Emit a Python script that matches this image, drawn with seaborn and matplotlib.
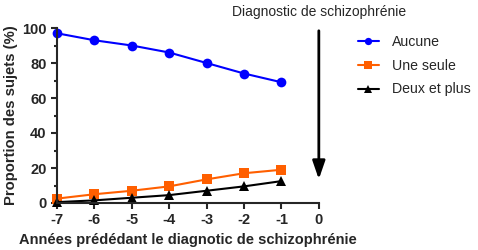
import pandas as pd
import seaborn as sns
import matplotlib.pyplot as plt

# Values
annees = [-7, -6, -5, -4, -3, -2, -1]
aucune = [97, 93, 90, 86, 80, 74, 69]
une_seule = [2.5, 5, 7, 9.5, 13.5, 17, 19]
deux_et_plus = [0.5, 1.5, 3, 4.5, 7, 9.5, 12.5]
groupes = ["Aucune", "Une seule", "Deux et plus"]

df = pd.DataFrame({
    "annee": annees * 3,
    "proportion": aucune + une_seule + deux_et_plus,
    "groupe": [g for g in groupes for _ in annees],
})

sns.set_style("ticks")
plt.rcParams['font.family'] = ['Liberation Sans', 'DejaVu Sans']
plt.rcParams['axes.unicode_minus'] = False

fig = plt.figure(figsize=(4.78, 2.5), dpi=100)
ax = fig.add_axes([0.119, 0.188, 0.548, 0.70])

palette = {"Aucune": "#0000ff", "Une seule": "#ff5f00", "Deux et plus": "#000000"}
markers = {"Aucune": "o", "Une seule": "s", "Deux et plus": "^"}
sns.lineplot(data=df, x="annee", y="proportion", hue="groupe", style="groupe",
             palette=palette, markers=markers, dashes=False, markersize=7,
             markeredgewidth=0, linewidth=1.5, ax=ax, clip_on=False)

ax.set_xlim(-7, 0)
ax.set_ylim(0, 100)
ax.set_xticks(range(-7, 1))
ax.set_yticks(range(0, 101, 20))
ax.set_yticks(range(10, 100, 20), minor=True)
for side in ["top", "right"]:
    ax.spines[side].set_visible(False)
for side in ["left", "bottom"]:
    ax.spines[side].set_linewidth(1.5)
ax.tick_params(which="major", length=4, width=1.5, labelsize=10.5)
ax.tick_params(which="minor", length=2.5, width=1.5)
for lbl in ax.get_xticklabels() + ax.get_yticklabels():
    lbl.set_fontweight("bold")

ax.set_xlabel("Années prédédant le diagnotic de schizophrénie", fontsize=10.5, fontweight="bold")
ax.set_ylabel("Proportion des sujets (%)", fontsize=10.7, fontweight="bold", labelpad=3)

# Arrow marking the diagnosis
ax.annotate("", xy=(0, 12), xytext=(0, 100), annotation_clip=False,
            arrowprops=dict(arrowstyle="-|>,head_length=1.1,head_width=0.38",
                            color="black", lw=2))
ax.text(0, 1.05, "Diagnostic de schizophrénie", transform=ax.get_xaxis_transform(),
        ha="center", va="bottom", fontsize=10)

leg = ax.legend(loc="upper left", bbox_to_anchor=(1.1, 1.035), frameon=False,
                fontsize=10.2, handlelength=1.5, labelspacing=0.7, markerscale=0.75,
                handletextpad=0.9)

plt.savefig("out.png", dpi=100)
